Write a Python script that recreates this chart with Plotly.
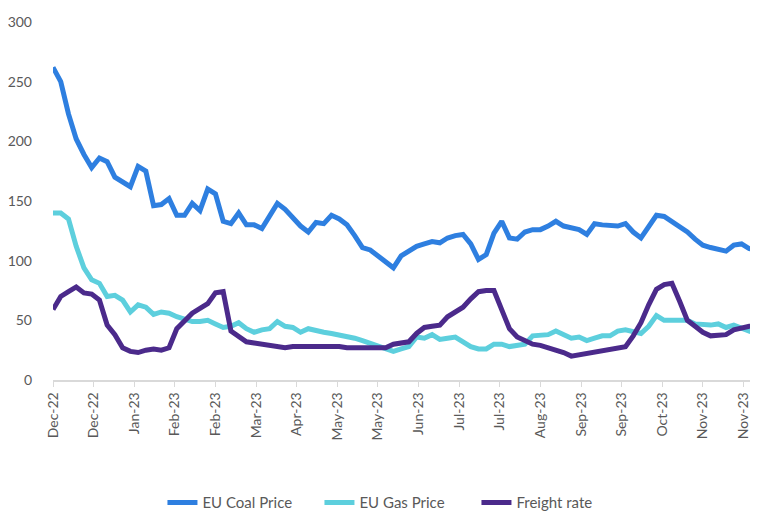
import pandas as pd
import plotly.graph_objects as go

# sampled every 4 days from 5 Dec 2022
DATES = pd.date_range("2022-12-05", periods=92, freq="4D")

COAL = [
    262, 250, 223, 202, 189, 178, 186, 183, 170, 166, 162, 179, 175, 146, 147, 152,
    138, 138, 148, 142, 160, 156, 133, 131, 140, 130, 130, 127, 138, 148, 143, 136,
    129, 124, 132, 131, 138, 135, 130, 121, 111, 109, 104, 98, 94, 104, 108, 112,
    114, 116, 115, 119, 121, 122, 114, 101, 105, 123, 133, 119, 118, 124, 126, 126,
    129, 133, 129, 128, 126, 122, 131, 130, 130, 129, 131, 124, 119, 129, 138, 137,
    133, 128, 124, 118, 113, 111, 109, 108, 113, 114, 110, 109,
]

GAS = [
    140, 140, 135, 112, 94, 84, 81, 70, 71, 67, 57, 63, 61, 55, 57, 56,
    53, 51, 49, 49, 50, 47, 44, 45, 48, 43, 40, 42, 43, 49, 45, 44,
    40, 43, 41, 40, 39, 38, 37, 35, 33, 31, 29, 26, 24, 26, 28, 36,
    35, 38, 34, 35, 36, 32, 28, 26, 26, 30, 30, 28, 29, 30, 37, 37,
    38, 41, 38, 35, 36, 33, 35, 37, 37, 41, 42, 40, 39, 45, 54, 50,
    50, 51, 50, 47, 46, 46, 47, 44, 46, 43, 41, 39,
]

FREIGHT = [
    59, 70, 74, 78, 73, 72, 67, 46, 38, 27, 24, 23, 25, 26, 25, 27,
    43, 49, 56, 60, 64, 73, 74, 41, 36, 32, 31, 30, 29, 28, 27, 28,
    28, 29, 29, 28, 28, 28, 27, 27, 27, 27, 27, 27, 30, 31, 32, 39,
    44, 45, 46, 53, 57, 61, 68, 74, 75, 75, 59, 43, 36, 33, 30, 29,
    27, 26, 23, 20, 21, 22, 23, 25, 26, 26, 28, 37, 48, 63, 76, 80,
    81, 66, 50, 45, 40, 37, 37, 38, 42, 44, 45, 45,
]

# tick every 21 days
TICK_DATES = pd.date_range("2022-12-05", periods=18, freq="21D")
TICK_LABELS = [
    "Dec-22", "Dec-22", "Jan-23", "Feb-23", "Feb-23", "Mar-23", "Apr-23", "May-23", "May-23",
    "Jun-23", "Jul-23", "Jul-23", "Aug-23", "Sep-23", "Sep-23", "Oct-23", "Nov-23", "Nov-23",
]

CORES = {
    "coal": "#2E7FE0",
    "gas": "#5DCFDD",
    "freight": "#4B2A8B",
}
FONT_COLOR = "#595959"
AXIS_LINE_COLOR = "#D9D9D9"
FONT_FAMILY = "Lato, 'DejaVu Sans', sans-serif"

fig = go.Figure()
fig.add_trace(go.Scatter(x=DATES, y=COAL, name="EU Coal Price", mode="lines",
                         line=dict(color=CORES["coal"], width=5)))
fig.add_trace(go.Scatter(x=DATES, y=GAS, name="EU Gas Price", mode="lines",
                         line=dict(color=CORES["gas"], width=5)))
fig.add_trace(go.Scatter(x=DATES, y=FREIGHT, name="Freight rate", mode="lines",
                         line=dict(color=CORES["freight"], width=5)))

# the page body has an 8px margin, so the figure is sized to what is left
fig.update_layout(
    width=750, height=504,
    plot_bgcolor="white", paper_bgcolor="white",
    font=dict(family=FONT_FAMILY, color=FONT_COLOR, size=14),
    margin=dict(l=45, r=1, t=14, b=132, autoexpand=False),
    showlegend=True,
    legend=dict(
        orientation="h",
        xanchor="center", x=0.49,
        yanchor="middle", y=-0.343,
        font=dict(size=15, color=FONT_COLOR),
        entrywidth=112,
    ),
)
fig.update_xaxes(
    range=[DATES[0], DATES[-1]],
    tickmode="array",
    tickvals=TICK_DATES,
    ticktext=TICK_LABELS,
    tickangle=-90,
    ticks="outside", ticklen=5, tickcolor=AXIS_LINE_COLOR,
    showline=True, linecolor=AXIS_LINE_COLOR, linewidth=1.5,
    showgrid=False, zeroline=False, automargin=False,
    tickfont=dict(size=14, color=FONT_COLOR),
)
fig.update_yaxes(
    range=[0, 300], dtick=50,
    showgrid=False, zeroline=False, showline=False, automargin=False,
    ticklabelstandoff=20,
    tickfont=dict(size=14, color=FONT_COLOR),
)

fig.write_html("out.html")
